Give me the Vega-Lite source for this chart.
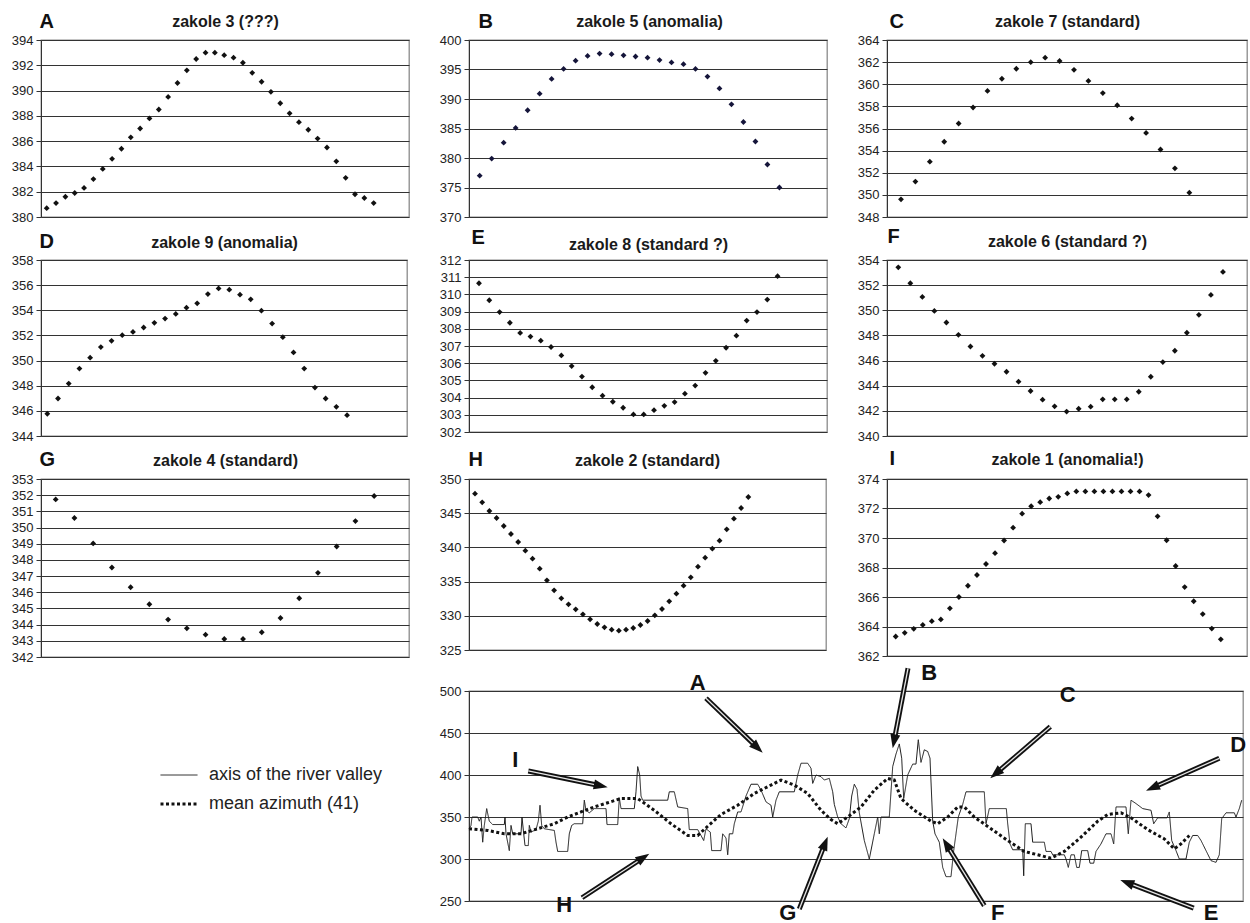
{
"$schema": "https://vega.github.io/schema/vega-lite/v6.json",
"background": "white",
"autosize": {"type": "pad"},
"padding": {"left": 10, "top": 10, "right": 4, "bottom": 4},
"config": {
  "font": "Liberation Sans",
  "view": {"stroke": "#8a8a8a", "strokeWidth": 1.3},
  "axisY": {"grid": true, "gridColor": "#333333", "gridOpacity": 1, "gridWidth": 1, "domainColor": "#333333", "domainWidth": 1, "tickColor": "#333333", "tickSize": 5, "labelFontSize": 13, "labelColor": "#222222", "labelPadding": 3, "labelFont": "Liberation Sans", "titleAngle": 0, "titleFontSize": 20, "titleFontWeight": "bold", "titleColor": "#111111", "titleAlign": "left", "titleBaseline": "alphabetic", "titleFont": "Liberation Sans"},
  "axisX": {"labels": false, "ticks": false, "domain": false, "grid": false, "titleFontSize": 16, "titleFontWeight": "bold", "titleColor": "#1a1a1a", "titleAlign": "center", "titleBaseline": "alphabetic", "titleFont": "Liberation Sans", "titleAngle": 0},
  "legend": {"orient": "none", "legendX": 127, "legendY": 725, "labelFontSize": 18, "labelColor": "#222222", "labelFont": "Liberation Sans", "symbolType": "M-2,0L2,0", "symbolSize": 342, "labelOffset": 19, "rowPadding": 9, "labelLimit": 400}
},
"datasets": {
  "A": [{"i":1,"v":380.7},{"i":2,"v":381.1},{"i":3,"v":381.6},{"i":4,"v":381.9},{"i":5,"v":382.3},{"i":6,"v":383.0},{"i":7,"v":383.8},{"i":8,"v":384.6},{"i":9,"v":385.4},{"i":10,"v":386.3},{"i":11,"v":387.0},{"i":12,"v":387.8},{"i":13,"v":388.5},{"i":14,"v":389.5},{"i":15,"v":390.6},{"i":16,"v":391.6},{"i":17,"v":392.5},{"i":18,"v":393.0},{"i":19,"v":393.0},{"i":20,"v":392.8},{"i":21,"v":392.6},{"i":22,"v":392.2},{"i":23,"v":391.4},{"i":24,"v":390.7},{"i":25,"v":389.9},{"i":26,"v":389.0},{"i":27,"v":388.2},{"i":28,"v":387.5},{"i":29,"v":386.9},{"i":30,"v":386.2},{"i":31,"v":385.5},{"i":32,"v":384.4},{"i":33,"v":383.1},{"i":34,"v":381.8},{"i":35,"v":381.5},{"i":36,"v":381.1}],
  "B": [{"i":1,"v":377.0},{"i":2,"v":379.9},{"i":3,"v":382.6},{"i":4,"v":385.1},{"i":5,"v":388.1},{"i":6,"v":390.9},{"i":7,"v":393.4},{"i":8,"v":395.1},{"i":9,"v":396.5},{"i":10,"v":397.3},{"i":11,"v":397.7},{"i":12,"v":397.6},{"i":13,"v":397.4},{"i":14,"v":397.2},{"i":15,"v":397.0},{"i":16,"v":396.6},{"i":17,"v":396.2},{"i":18,"v":395.9},{"i":19,"v":395.1},{"i":20,"v":393.8},{"i":21,"v":391.8},{"i":22,"v":389.1},{"i":23,"v":386.1},{"i":24,"v":382.8},{"i":25,"v":378.9},{"i":26,"v":375.0}],
  "C": [{"i":1,"v":349.6},{"i":2,"v":351.2},{"i":3,"v":353.0},{"i":4,"v":354.8},{"i":5,"v":356.45},{"i":6,"v":357.9},{"i":7,"v":359.4},{"i":8,"v":360.5},{"i":9,"v":361.4},{"i":10,"v":362.0},{"i":11,"v":362.4},{"i":12,"v":362.1},{"i":13,"v":361.3},{"i":14,"v":360.3},{"i":15,"v":359.2},{"i":16,"v":358.1},{"i":17,"v":356.9},{"i":18,"v":355.6},{"i":19,"v":354.1},{"i":20,"v":352.4},{"i":21,"v":350.2}],
  "D": [{"i":1,"v":345.77},{"i":2,"v":346.98},{"i":3,"v":348.17},{"i":4,"v":349.36},{"i":5,"v":350.23},{"i":6,"v":351.07},{"i":7,"v":351.57},{"i":8,"v":352.02},{"i":9,"v":352.28},{"i":10,"v":352.63},{"i":11,"v":353.0},{"i":12,"v":353.34},{"i":13,"v":353.71},{"i":14,"v":354.21},{"i":15,"v":354.55},{"i":16,"v":355.29},{"i":17,"v":355.74},{"i":18,"v":355.64},{"i":19,"v":355.24},{"i":20,"v":354.87},{"i":21,"v":353.97},{"i":22,"v":352.94},{"i":23,"v":351.86},{"i":24,"v":350.65},{"i":25,"v":349.36},{"i":26,"v":347.85},{"i":27,"v":346.98},{"i":28,"v":346.32},{"i":29,"v":345.66}],
  "E": [{"i":1,"v":310.65},{"i":2,"v":309.66},{"i":3,"v":308.97},{"i":4,"v":308.35},{"i":5,"v":307.76},{"i":6,"v":307.55},{"i":7,"v":307.31},{"i":8,"v":306.94},{"i":9,"v":306.45},{"i":10,"v":305.83},{"i":11,"v":305.22},{"i":12,"v":304.6},{"i":13,"v":304.11},{"i":14,"v":303.76},{"i":15,"v":303.41},{"i":16,"v":303.02},{"i":17,"v":303.02},{"i":18,"v":303.27},{"i":19,"v":303.52},{"i":20,"v":303.74},{"i":21,"v":304.23},{"i":22,"v":304.7},{"i":23,"v":305.44},{"i":24,"v":306.14},{"i":25,"v":306.9},{"i":26,"v":307.6},{"i":27,"v":308.48},{"i":28,"v":308.97},{"i":29,"v":309.7},{"i":30,"v":311.06}],
  "F": [{"i":1,"v":353.42},{"i":2,"v":352.15},{"i":3,"v":351.06},{"i":4,"v":349.95},{"i":5,"v":349.03},{"i":6,"v":348.05},{"i":7,"v":347.12},{"i":8,"v":346.38},{"i":9,"v":345.75},{"i":10,"v":345.11},{"i":11,"v":344.32},{"i":12,"v":343.58},{"i":13,"v":342.89},{"i":14,"v":342.36},{"i":15,"v":341.94},{"i":16,"v":342.17},{"i":17,"v":342.33},{"i":18,"v":342.92},{"i":19,"v":342.92},{"i":20,"v":342.92},{"i":21,"v":343.52},{"i":22,"v":344.71},{"i":23,"v":345.88},{"i":24,"v":346.78},{"i":25,"v":348.21},{"i":26,"v":349.64},{"i":27,"v":351.22},{"i":28,"v":353.05}],
  "G": [{"i":1,"v":351.74},{"i":2,"v":350.59},{"i":3,"v":349.02},{"i":4,"v":347.53},{"i":5,"v":346.31},{"i":6,"v":345.26},{"i":7,"v":344.31},{"i":8,"v":343.77},{"i":9,"v":343.38},{"i":10,"v":343.11},{"i":11,"v":343.11},{"i":12,"v":343.53},{"i":13,"v":344.41},{"i":14,"v":345.63},{"i":15,"v":347.2},{"i":16,"v":348.83},{"i":17,"v":350.4},{"i":18,"v":351.95}],
  "H": [{"i":1,"v":347.86},{"i":2,"v":346.59},{"i":3,"v":345.32},{"i":4,"v":344.3},{"i":5,"v":343.13},{"i":6,"v":341.96},{"i":7,"v":340.79},{"i":8,"v":339.52},{"i":9,"v":338.35},{"i":10,"v":336.89},{"i":11,"v":335.19},{"i":12,"v":333.72},{"i":13,"v":332.55},{"i":14,"v":331.68},{"i":15,"v":330.95},{"i":16,"v":330.21},{"i":17,"v":329.48},{"i":18,"v":328.8},{"i":19,"v":328.31},{"i":20,"v":327.97},{"i":21,"v":327.83},{"i":22,"v":327.97},{"i":23,"v":328.22},{"i":24,"v":328.66},{"i":25,"v":329.24},{"i":26,"v":330.07},{"i":27,"v":331.0},{"i":28,"v":332.12},{"i":29,"v":333.24},{"i":30,"v":334.41},{"i":31,"v":335.62},{"i":32,"v":337.18},{"i":33,"v":338.5},{"i":34,"v":339.81},{"i":35,"v":340.98},{"i":36,"v":342.64},{"i":37,"v":344.2},{"i":38,"v":345.76},{"i":39,"v":347.37}],
  "I": [{"i":1,"v":363.32},{"i":2,"v":363.57},{"i":3,"v":363.84},{"i":4,"v":364.11},{"i":5,"v":364.36},{"i":6,"v":364.48},{"i":7,"v":365.23},{"i":8,"v":366.0},{"i":9,"v":366.76},{"i":10,"v":367.49},{"i":11,"v":368.24},{"i":12,"v":368.97},{"i":13,"v":369.83},{"i":14,"v":370.7},{"i":15,"v":371.65},{"i":16,"v":372.15},{"i":17,"v":372.43},{"i":18,"v":372.68},{"i":19,"v":372.79},{"i":20,"v":373.02},{"i":21,"v":373.16},{"i":22,"v":373.16},{"i":23,"v":373.16},{"i":24,"v":373.16},{"i":25,"v":373.16},{"i":26,"v":373.16},{"i":27,"v":373.16},{"i":28,"v":373.16},{"i":29,"v":372.91},{"i":30,"v":371.47},{"i":31,"v":369.85},{"i":32,"v":368.1},{"i":33,"v":366.67},{"i":34,"v":365.71},{"i":35,"v":364.84},{"i":36,"v":363.86},{"i":37,"v":363.13}],
  "profile": [
{"s":"axis of the river valley","pos":0,"v":336},{"s":"axis of the river valley","pos":2,"v":340},{"s":"axis of the river valley","pos":3,"v":350},{"s":"axis of the river valley","pos":8.7,"v":350},{"s":"axis of the river valley","pos":10.3,"v":345},{"s":"axis of the river valley","pos":12,"v":350},{"s":"axis of the river valley","pos":13.7,"v":320},{"s":"axis of the river valley","pos":15.3,"v":340},{"s":"axis of the river valley","pos":17.7,"v":360},{"s":"axis of the river valley","pos":20.3,"v":345},{"s":"axis of the river valley","pos":23.7,"v":341},{"s":"axis of the river valley","pos":35.3,"v":341},{"s":"axis of the river valley","pos":36,"v":350},{"s":"axis of the river valley","pos":37,"v":330},{"s":"axis of the river valley","pos":40.3,"v":310},{"s":"axis of the river valley","pos":42,"v":340},{"s":"axis of the river valley","pos":43.7,"v":330},{"s":"axis of the river valley","pos":52,"v":330},{"s":"axis of the river valley","pos":53,"v":350},{"s":"axis of the river valley","pos":54.7,"v":330},{"s":"axis of the river valley","pos":56,"v":316},{"s":"axis of the river valley","pos":59.3,"v":316},{"s":"axis of the river valley","pos":60.3,"v":340},{"s":"axis of the river valley","pos":62,"v":332},{"s":"axis of the river valley","pos":67,"v":335},{"s":"axis of the river valley","pos":69.3,"v":345},{"s":"axis of the river valley","pos":71,"v":364},{"s":"axis of the river valley","pos":72.7,"v":340},{"s":"axis of the river valley","pos":75.3,"v":336},{"s":"axis of the river valley","pos":85.3,"v":334},{"s":"axis of the river valley","pos":87,"v":320},{"s":"axis of the river valley","pos":88.7,"v":309},{"s":"axis of the river valley","pos":98.7,"v":309},{"s":"axis of the river valley","pos":100.3,"v":330},{"s":"axis of the river valley","pos":102.7,"v":340},{"s":"axis of the river valley","pos":105.3,"v":342},{"s":"axis of the river valley","pos":113.7,"v":342},{"s":"axis of the river valley","pos":115.3,"v":370},{"s":"axis of the river valley","pos":117,"v":358},{"s":"axis of the river valley","pos":120.3,"v":355},{"s":"axis of the river valley","pos":125.3,"v":360},{"s":"axis of the river valley","pos":137,"v":360},{"s":"axis of the river valley","pos":138,"v":341},{"s":"axis of the river valley","pos":148.7,"v":341},{"s":"axis of the river valley","pos":150.3,"v":373},{"s":"axis of the river valley","pos":152,"v":360},{"s":"axis of the river valley","pos":165.3,"v":360},{"s":"axis of the river valley","pos":167,"v":380},{"s":"axis of the river valley","pos":168.7,"v":410},{"s":"axis of the river valley","pos":170.7,"v":400},{"s":"axis of the river valley","pos":172,"v":375},{"s":"axis of the river valley","pos":173.7,"v":370},{"s":"axis of the river valley","pos":198.7,"v":370},{"s":"axis of the river valley","pos":200.3,"v":380},{"s":"axis of the river valley","pos":205.3,"v":380},{"s":"axis of the river valley","pos":208.7,"v":362},{"s":"axis of the river valley","pos":218.7,"v":360},{"s":"axis of the river valley","pos":220.3,"v":335},{"s":"axis of the river valley","pos":228.7,"v":335},{"s":"axis of the river valley","pos":232,"v":328},{"s":"axis of the river valley","pos":234.7,"v":322},{"s":"axis of the river valley","pos":237,"v":336},{"s":"axis of the river valley","pos":241.3,"v":332},{"s":"axis of the river valley","pos":242.7,"v":310},{"s":"axis of the river valley","pos":252,"v":310},{"s":"axis of the river valley","pos":253.7,"v":330},{"s":"axis of the river valley","pos":257,"v":325},{"s":"axis of the river valley","pos":258.7,"v":305},{"s":"axis of the river valley","pos":260.3,"v":330},{"s":"axis of the river valley","pos":263.7,"v":330},{"s":"axis of the river valley","pos":265.3,"v":342},{"s":"axis of the river valley","pos":268.7,"v":356},{"s":"axis of the river valley","pos":272,"v":356},{"s":"axis of the river valley","pos":277,"v":375},{"s":"axis of the river valley","pos":282,"v":389},{"s":"axis of the river valley","pos":288.7,"v":389},{"s":"axis of the river valley","pos":292,"v":382},{"s":"axis of the river valley","pos":297,"v":368},{"s":"axis of the river valley","pos":302,"v":364},{"s":"axis of the river valley","pos":303.7,"v":350},{"s":"axis of the river valley","pos":307,"v":370},{"s":"axis of the river valley","pos":310.3,"v":380},{"s":"axis of the river valley","pos":325.3,"v":380},{"s":"axis of the river valley","pos":328.7,"v":400},{"s":"axis of the river valley","pos":332,"v":414},{"s":"axis of the river valley","pos":338.7,"v":414},{"s":"axis of the river valley","pos":342,"v":408},{"s":"axis of the river valley","pos":343.7,"v":390},{"s":"axis of the river valley","pos":347,"v":400},{"s":"axis of the river valley","pos":352,"v":398},{"s":"axis of the river valley","pos":355.3,"v":394},{"s":"axis of the river valley","pos":360.3,"v":396},{"s":"axis of the river valley","pos":363.7,"v":380},{"s":"axis of the river valley","pos":365.3,"v":365},{"s":"axis of the river valley","pos":368.7,"v":350},{"s":"axis of the river valley","pos":372,"v":342},{"s":"axis of the river valley","pos":377,"v":337},{"s":"axis of the river valley","pos":380.3,"v":348},{"s":"axis of the river valley","pos":382.7,"v":375},{"s":"axis of the river valley","pos":385.3,"v":389},{"s":"axis of the river valley","pos":388,"v":383},{"s":"axis of the river valley","pos":390.3,"v":355},{"s":"axis of the river valley","pos":395.3,"v":322},{"s":"axis of the river valley","pos":400.3,"v":300},{"s":"axis of the river valley","pos":405.3,"v":330},{"s":"axis of the river valley","pos":408.7,"v":350},{"s":"axis of the river valley","pos":410.3,"v":330},{"s":"axis of the river valley","pos":412,"v":350},{"s":"axis of the river valley","pos":420.3,"v":350},{"s":"axis of the river valley","pos":423.7,"v":410},{"s":"axis of the river valley","pos":427,"v":425},{"s":"axis of the river valley","pos":430.3,"v":437},{"s":"axis of the river valley","pos":432.7,"v":420},{"s":"axis of the river valley","pos":434.7,"v":372},{"s":"axis of the river valley","pos":438.7,"v":400},{"s":"axis of the river valley","pos":443.7,"v":413},{"s":"axis of the river valley","pos":447,"v":413},{"s":"axis of the river valley","pos":449.3,"v":442},{"s":"axis of the river valley","pos":452,"v":415},{"s":"axis of the river valley","pos":455.3,"v":430},{"s":"axis of the river valley","pos":458.7,"v":428},{"s":"axis of the river valley","pos":461,"v":420},{"s":"axis of the river valley","pos":463.7,"v":345},{"s":"axis of the river valley","pos":466,"v":330},{"s":"axis of the river valley","pos":470.3,"v":320},{"s":"axis of the river valley","pos":473.7,"v":290},{"s":"axis of the river valley","pos":477,"v":279},{"s":"axis of the river valley","pos":482,"v":279},{"s":"axis of the river valley","pos":484.7,"v":310},{"s":"axis of the river valley","pos":487,"v":330},{"s":"axis of the river valley","pos":489.3,"v":350},{"s":"axis of the river valley","pos":493.7,"v":365},{"s":"axis of the river valley","pos":497,"v":380},{"s":"axis of the river valley","pos":515.3,"v":380},{"s":"axis of the river valley","pos":517,"v":342},{"s":"axis of the river valley","pos":520.3,"v":360},{"s":"axis of the river valley","pos":537.3,"v":360},{"s":"axis of the river valley","pos":538.7,"v":342},{"s":"axis of the river valley","pos":541,"v":318},{"s":"axis of the river valley","pos":543.7,"v":311},{"s":"axis of the river valley","pos":553.7,"v":311},{"s":"axis of the river valley","pos":554.7,"v":280},{"s":"axis of the river valley","pos":556.3,"v":342},{"s":"axis of the river valley","pos":562,"v":342},{"s":"axis of the river valley","pos":563.7,"v":320},{"s":"axis of the river valley","pos":575.3,"v":320},{"s":"axis of the river valley","pos":577,"v":309},{"s":"axis of the river valley","pos":582,"v":309},{"s":"axis of the river valley","pos":583.7,"v":305},{"s":"axis of the river valley","pos":595.3,"v":305},{"s":"axis of the river valley","pos":597,"v":300},{"s":"axis of the river valley","pos":599.3,"v":290},{"s":"axis of the river valley","pos":602,"v":305},{"s":"axis of the river valley","pos":605.3,"v":305},{"s":"axis of the river valley","pos":607.7,"v":290},{"s":"axis of the river valley","pos":610.3,"v":290},{"s":"axis of the river valley","pos":612.7,"v":310},{"s":"axis of the river valley","pos":618.7,"v":310},{"s":"axis of the river valley","pos":621,"v":295},{"s":"axis of the river valley","pos":624.7,"v":295},{"s":"axis of the river valley","pos":627,"v":309},{"s":"axis of the river valley","pos":632,"v":318},{"s":"axis of the river valley","pos":637,"v":330},{"s":"axis of the river valley","pos":642,"v":330},{"s":"axis of the river valley","pos":644.7,"v":318},{"s":"axis of the river valley","pos":647,"v":362},{"s":"axis of the river valley","pos":657,"v":362},{"s":"axis of the river valley","pos":659.3,"v":330},{"s":"axis of the river valley","pos":662,"v":370},{"s":"axis of the river valley","pos":667,"v":366},{"s":"axis of the river valley","pos":673.7,"v":360},{"s":"axis of the river valley","pos":682,"v":358},{"s":"axis of the river valley","pos":684.7,"v":342},{"s":"axis of the river valley","pos":688.7,"v":349},{"s":"axis of the river valley","pos":698,"v":349},{"s":"axis of the river valley","pos":700.3,"v":356},{"s":"axis of the river valley","pos":702.7,"v":322},{"s":"axis of the river valley","pos":707,"v":310},{"s":"axis of the river valley","pos":710.3,"v":300},{"s":"axis of the river valley","pos":717,"v":300},{"s":"axis of the river valley","pos":720.3,"v":320},{"s":"axis of the river valley","pos":723.7,"v":328},{"s":"axis of the river valley","pos":728.7,"v":328},{"s":"axis of the river valley","pos":732,"v":322},{"s":"axis of the river valley","pos":737,"v":310},{"s":"axis of the river valley","pos":742,"v":298},{"s":"axis of the river valley","pos":747,"v":296},{"s":"axis of the river valley","pos":750.3,"v":305},{"s":"axis of the river valley","pos":752.7,"v":348},{"s":"axis of the river valley","pos":757,"v":355},{"s":"axis of the river valley","pos":765.3,"v":355},{"s":"axis of the river valley","pos":767,"v":350},{"s":"axis of the river valley","pos":770.3,"v":360},{"s":"axis of the river valley","pos":772.7,"v":370},
{"s":"mean azimuth (41)","pos":0,"v":336},{"s":"mean azimuth (41)","pos":18.7,"v":334},{"s":"mean azimuth (41)","pos":35.3,"v":330},{"s":"mean azimuth (41)","pos":52,"v":330},{"s":"mean azimuth (41)","pos":68.7,"v":336},{"s":"mean azimuth (41)","pos":85.3,"v":342},{"s":"mean azimuth (41)","pos":98.7,"v":350},{"s":"mean azimuth (41)","pos":112,"v":356},{"s":"mean azimuth (41)","pos":125.3,"v":362},{"s":"mean azimuth (41)","pos":138.7,"v":367},{"s":"mean azimuth (41)","pos":152,"v":372},{"s":"mean azimuth (41)","pos":168.7,"v":372},{"s":"mean azimuth (41)","pos":185.3,"v":358},{"s":"mean azimuth (41)","pos":202,"v":342},{"s":"mean azimuth (41)","pos":218.7,"v":328},{"s":"mean azimuth (41)","pos":228.7,"v":328},{"s":"mean azimuth (41)","pos":238.7,"v":339},{"s":"mean azimuth (41)","pos":252,"v":353},{"s":"mean azimuth (41)","pos":268.7,"v":364},{"s":"mean azimuth (41)","pos":285.3,"v":378},{"s":"mean azimuth (41)","pos":302,"v":388},{"s":"mean azimuth (41)","pos":312,"v":394},{"s":"mean azimuth (41)","pos":325.3,"v":388},{"s":"mean azimuth (41)","pos":338.7,"v":378},{"s":"mean azimuth (41)","pos":352,"v":358},{"s":"mean azimuth (41)","pos":362,"v":347},{"s":"mean azimuth (41)","pos":368.7,"v":342},{"s":"mean azimuth (41)","pos":378.7,"v":350},{"s":"mean azimuth (41)","pos":392,"v":362},{"s":"mean azimuth (41)","pos":405.3,"v":382},{"s":"mean azimuth (41)","pos":418.7,"v":396},{"s":"mean azimuth (41)","pos":425.3,"v":394},{"s":"mean azimuth (41)","pos":432,"v":372},{"s":"mean azimuth (41)","pos":445.3,"v":358},{"s":"mean azimuth (41)","pos":462,"v":345},{"s":"mean azimuth (41)","pos":468.7,"v":342},{"s":"mean azimuth (41)","pos":478.7,"v":350},{"s":"mean azimuth (41)","pos":488.7,"v":362},{"s":"mean azimuth (41)","pos":495.3,"v":362},{"s":"mean azimuth (41)","pos":505.3,"v":350},{"s":"mean azimuth (41)","pos":522,"v":336},{"s":"mean azimuth (41)","pos":538.7,"v":322},{"s":"mean azimuth (41)","pos":555.3,"v":309},{"s":"mean azimuth (41)","pos":568.7,"v":305},{"s":"mean azimuth (41)","pos":582,"v":301},{"s":"mean azimuth (41)","pos":595.3,"v":309},{"s":"mean azimuth (41)","pos":612,"v":326},{"s":"mean azimuth (41)","pos":628.7,"v":345},{"s":"mean azimuth (41)","pos":638.7,"v":353},{"s":"mean azimuth (41)","pos":652,"v":355},{"s":"mean azimuth (41)","pos":662,"v":349},{"s":"mean azimuth (41)","pos":678.7,"v":335},{"s":"mean azimuth (41)","pos":695.3,"v":324},{"s":"mean azimuth (41)","pos":705.3,"v":312},{"s":"mean azimuth (41)","pos":712,"v":318},{"s":"mean azimuth (41)","pos":720.3,"v":328}
  ],
  "arrows": [
    {"k":"A","lt":228.7,"lv":509,"t0":237,"v0":491.3,"t1":293.7,"v1":426.5},
    {"k":"I","lt":46.3,"lv":418,"t0":59.3,"v0":404.8,"t1":138.7,"v1":385.4},
    {"k":"H","lt":95.3,"lv":245,"t0":113,"v0":253.9,"t1":180.3,"v1":306.3},
    {"k":"G","lt":318.7,"lv":235.5,"t0":330.3,"v0":240.5,"t1":358.7,"v1":326.6},
    {"k":"B","lt":460.3,"lv":521,"t0":439,"v0":527,"t1":423.7,"v1":431.8},
    {"k":"C","lt":598.7,"lv":495,"t0":581.3,"v0":457.5,"t1":521.3,"v1":396.1},
    {"k":"D","lt":769.3,"lv":436,"t0":750.3,"v0":419.9,"t1":677,"v1":381.3},
    {"k":"F","lt":528.7,"lv":235.5,"t0":515.3,"v0":244.5,"t1":473.7,"v1":324.6},
    {"k":"E","lt":742,"lv":235.5,"t0":724.7,"v0":241.5,"t1":651.3,"v1":275}
  ]
},
"spacing": -4,
"vconcat": [
 {
  "columns": 3,
  "align": "none",
  "bounds": "flush",
  "spacing": {"row": 43, "column": 60},
  "concat": [
  {"width": 368, "height": 177, "data": {"name": "A"},
   "mark": {"type": "point", "shape": "diamond", "filled": true, "size": 34, "color": "#111111", "opacity": 1, "clip": false},
   "encoding": {"x": {"field": "i", "type": "quantitative", "scale": {"domain": [0.39, 39.78], "nice": false, "zero": false}, "axis": {"orient": "top", "title": "zakole 3 (???)", "titleX": 184, "titleY": -14}},
     "y": {"field": "v", "type": "quantitative", "scale": {"domain": [380, 394], "nice": false, "zero": false}, "axis": {"values": [380,382,384,386,388,390,392,394], "title": "A", "titleX": -2, "titleY": -13}}}},
  {"width": 358, "height": 177, "data": {"name": "B"},
   "mark": {"type": "point", "shape": "diamond", "filled": true, "size": 34, "color": "#15153a", "opacity": 1, "clip": false},
   "encoding": {"x": {"field": "i", "type": "quantitative", "scale": {"domain": [0.108, 29.97], "nice": false, "zero": false}, "axis": {"orient": "top", "title": "zakole 5 (anomalia)", "titleX": 180, "titleY": -14}},
     "y": {"field": "v", "type": "quantitative", "scale": {"domain": [370, 400], "nice": false, "zero": false}, "axis": {"values": [370,375,380,385,390,395,400], "title": "B", "titleX": 9, "titleY": -13}}}},
  {"width": 360, "height": 177, "data": {"name": "C"},
   "mark": {"type": "point", "shape": "diamond", "filled": true, "size": 34, "color": "#111111", "opacity": 1, "clip": false},
   "encoding": {"x": {"field": "i", "type": "quantitative", "scale": {"domain": [0.03, 25.0], "nice": false, "zero": false}, "axis": {"orient": "top", "title": "zakole 7 (standard)", "titleX": 180, "titleY": -14}},
     "y": {"field": "v", "type": "quantitative", "scale": {"domain": [348, 364], "nice": false, "zero": false}, "axis": {"values": [348,350,352,354,356,358,360,362,364], "title": "C", "titleX": 2, "titleY": -13}}}},
  {"width": 366, "height": 176, "data": {"name": "D"},
   "mark": {"type": "point", "shape": "diamond", "filled": true, "size": 34, "color": "#111111", "opacity": 1, "clip": false},
   "encoding": {"x": {"field": "i", "type": "quantitative", "scale": {"domain": [0.41, 34.6], "nice": false, "zero": false}, "axis": {"orient": "top", "title": "zakole 9 (anomalia)", "titleX": 183, "titleY": -13}},
     "y": {"field": "v", "type": "quantitative", "scale": {"domain": [344, 358], "nice": false, "zero": false}, "axis": {"values": [344,346,348,350,352,354,356,358], "title": "D", "titleX": -2, "titleY": -13}}}},
  {"width": 358, "height": 172, "data": {"name": "E"},
   "mark": {"type": "point", "shape": "diamond", "filled": true, "size": 34, "color": "#111111", "opacity": 1, "clip": false},
   "encoding": {"x": {"field": "i", "type": "quantitative", "scale": {"domain": [0.03, 34.8], "nice": false, "zero": false}, "axis": {"orient": "top", "title": "zakole 8 (standard ?)", "titleX": 179, "titleY": -11}},
     "y": {"field": "v", "type": "quantitative", "scale": {"domain": [302, 312], "nice": false, "zero": false}, "axis": {"values": [302,303,304,305,306,307,308,309,310,311,312], "title": "E", "titleX": 2, "titleY": -17}}}},
  {"width": 360, "height": 176, "data": {"name": "F"},
   "mark": {"type": "point", "shape": "diamond", "filled": true, "size": 34, "color": "#111111", "opacity": 1, "clip": false},
   "encoding": {"x": {"field": "i", "type": "quantitative", "scale": {"domain": [0.06, 30.0], "nice": false, "zero": false}, "axis": {"orient": "top", "title": "zakole 6 (standard ?)", "titleX": 180, "titleY": -14}},
     "y": {"field": "v", "type": "quantitative", "scale": {"domain": [340, 354], "nice": false, "zero": false}, "axis": {"values": [340,342,344,346,348,350,352,354], "title": "F", "titleX": 0, "titleY": -18}}}},
  {"width": 368, "height": 178, "data": {"name": "G"},
   "mark": {"type": "point", "shape": "diamond", "filled": true, "size": 34, "color": "#111111", "opacity": 1, "clip": false},
   "encoding": {"x": {"field": "i", "type": "quantitative", "scale": {"domain": [0.215, 19.86], "nice": false, "zero": false}, "axis": {"orient": "top", "title": "zakole 4 (standard)", "titleX": 184, "titleY": -14}},
     "y": {"field": "v", "type": "quantitative", "scale": {"domain": [342, 353], "nice": false, "zero": false}, "axis": {"values": [342,343,344,345,346,347,348,349,350,351,352,353], "title": "G", "titleX": -2, "titleY": -14}}}},
  {"width": 357, "height": 171, "data": {"name": "H"},
   "mark": {"type": "point", "shape": "diamond", "filled": true, "size": 34, "color": "#111111", "opacity": 1, "clip": false},
   "encoding": {"x": {"field": "i", "type": "quantitative", "scale": {"domain": [0.165, 49.8], "nice": false, "zero": false}, "axis": {"orient": "top", "title": "zakole 2 (standard)", "titleX": 178, "titleY": -14}},
     "y": {"field": "v", "type": "quantitative", "scale": {"domain": [325, 350], "nice": false, "zero": false}, "axis": {"values": [325,330,335,340,345,350], "title": "H", "titleX": -1, "titleY": -14}}}},
  {"width": 360, "height": 177, "data": {"name": "I"},
   "mark": {"type": "point", "shape": "diamond", "filled": true, "size": 34, "color": "#111111", "opacity": 1, "clip": false},
   "encoding": {"x": {"field": "i", "type": "quantitative", "scale": {"domain": [0.037, 39.9], "nice": false, "zero": false}, "axis": {"orient": "top", "title": "zakole 1 (anomalia!)", "titleX": 180, "titleY": -15}},
     "y": {"field": "v", "type": "quantitative", "scale": {"domain": [362, 374], "nice": false, "zero": false}, "axis": {"values": [362,364,366,368,370,372,374], "title": "I", "titleX": 2, "titleY": -15}}}}
  ]
 },
 {
  "bounds": "flush",
  "spacing": 60,
  "hconcat": [
  {"width": 368, "height": 200, "view": {"stroke": null}, "data": {"values": [{}]}, "mark": {"type": "text", "text": ""}, "encoding": {}},
  {"width": 774, "height": 210,
   "layer": [
     {"data": {"name": "profile"},
      "mark": {"type": "line", "clip": false, "strokeCap": "butt", "strokeJoin": "miter"},
      "encoding": {
        "x": {"field": "pos", "type": "quantitative", "scale": {"domain": [0, 774], "nice": false, "zero": false}, "axis": null},
        "y": {"field": "v", "type": "quantitative", "scale": {"domain": [250, 500], "nice": false, "zero": false}, "axis": {"values": [250,300,350,400,450,500], "title": null}},
        "color": {"field": "s", "type": "ordinal", "scale": {"range": ["#1a1a1a", "#111111"]}, "legend": {"title": null}},
        "strokeDash": {"field": "s", "type": "ordinal", "scale": {"range": [[1, 0], [3, 2.5]]}, "legend": {"title": null}},
        "strokeWidth": {"field": "s", "type": "ordinal", "scale": {"range": [1, 3]}, "legend": {"title": null}}
      }},
     {"data": {"name": "arrows"},
      "transform": [
        {"calculate": "datum.t1 - datum.t0", "as": "dx"},
        {"calculate": "(datum.v1 - datum.v0) * 0.84", "as": "dy"},
        {"calculate": "sqrt(datum.dx * datum.dx + datum.dy * datum.dy)", "as": "len"},
        {"calculate": "datum.t1 - (datum.t1 - datum.t0) * 11 / datum.len", "as": "tn"},
        {"calculate": "datum.v1 - (datum.v1 - datum.v0) * 11 / datum.len", "as": "vn"},
        {"calculate": "atan2(datum.dx, datum.dy) * 180 / PI", "as": "ang"}
      ],
      "layer": [
        {"mark": {"type": "rule", "clip": false, "color": "#111111", "strokeWidth": 5, "strokeCap": "butt"},
         "encoding": {"x": {"field": "t0", "type": "quantitative", "axis": null}, "y": {"field": "v0", "type": "quantitative", "axis": {"title": null}}, "x2": {"field": "tn"}, "y2": {"field": "vn"}}},
        {"mark": {"type": "rule", "clip": false, "color": "#e6e6e6", "strokeWidth": 1.3, "strokeCap": "butt"},
         "encoding": {"x": {"field": "t0", "type": "quantitative", "axis": null}, "y": {"field": "v0", "type": "quantitative", "axis": {"title": null}}, "x2": {"field": "tn"}, "y2": {"field": "vn"}}},
        {"mark": {"type": "point", "clip": false, "shape": "M0,0L-1,2.8L1,2.8Z", "filled": true, "size": 100, "color": "#111111", "opacity": 1},
         "encoding": {"x": {"field": "t1", "type": "quantitative", "axis": null}, "y": {"field": "v1", "type": "quantitative", "axis": {"title": null}}, "angle": {"field": "ang", "type": "quantitative", "scale": null}}},
        {"mark": {"type": "text", "clip": false, "fontSize": 22, "fontWeight": "bold", "color": "#111111", "align": "center", "baseline": "middle", "font": "Liberation Sans"},
         "encoding": {"x": {"field": "lt", "type": "quantitative", "axis": null}, "y": {"field": "lv", "type": "quantitative", "axis": {"title": null}}, "text": {"field": "k"}}}
      ]}
   ]}
  ]
 }
]
}
